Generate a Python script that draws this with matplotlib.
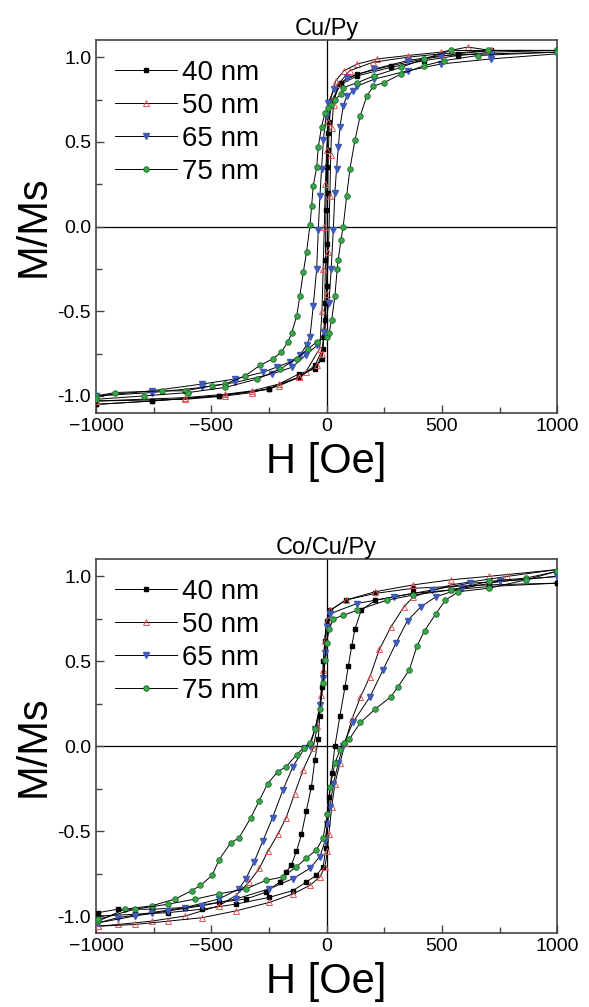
import numpy as np
import matplotlib.pyplot as plt
from matplotlib.ticker import MultipleLocator

plt.rcParams['font.family'] = ['Liberation Sans', 'DejaVu Sans']

labels = ['40 nm', '50 nm', '65 nm', '75 nm']

# ---- Cu/Py (top), values: descending (dn) and ascending (up) branches
cupy_40_dn_h = [1000, 713, 568, 423, 278, 133, 61, 17, 5, 0, -3, -5, -8, -12, -20, -50, -120, -251, -468, -758, -1000]
cupy_40_dn_m = [1.04, 1.04, 1.02, 0.99, 0.95, 0.90, 0.85, 0.71, 0.55, 0.35, 0.10, -0.20, -0.45, -0.65, -0.78, -0.84, -0.87, -0.96, -1.00, -1.03, -1.05]
cupy_40_up_h = [-1000, -758, -468, -251, -120, -50, -17, -5, 0, 3, 5, 8, 12, 20, 61, 133, 278, 423, 568, 713, 1000]
cupy_40_up_m = [-1.05, -1.03, -1.00, -0.96, -0.89, -0.82, -0.72, -0.55, -0.35, -0.10, 0.20, 0.45, 0.62, 0.74, 0.84, 0.89, 0.94, 0.98, 1.01, 1.03, 1.04]

cupy_50_dn_h = [1000, 713, 612, 496, 351, 220, 133, 75, 39, 17, 8, 0, -5, -10, -15, -20, -30, -91, -120, -207, -323, -439, -613, -1000]
cupy_50_dn_m = [1.04, 1.04, 1.06, 1.03, 1.01, 0.99, 0.96, 0.92, 0.86, 0.75, 0.62, 0.45, 0.25, 0.00, -0.25, -0.50, -0.72, -0.86, -0.89, -0.94, -0.98, -1.00, -1.02, -1.03]
cupy_50_up_h = [-1000, -613, -439, -323, -207, -120, -40, -20, -10, 0, 8, 14, 18, 22, 30, 50, 100, 200, 351, 496, 713, 1000]
cupy_50_up_m = [-1.03, -1.01, -0.99, -0.97, -0.93, -0.89, -0.82, -0.75, -0.60, -0.40, -0.15, 0.18, 0.42, 0.58, 0.72, 0.84, 0.92, 0.97, 1.00, 1.02, 1.04, 1.04]

cupy_65_dn_h = [1000, 713, 496, 351, 206, 90, 32, 7, -3, -14, -22, -29, -36, -43, -58, -72, -87, -116, -159, -217, -275, -396, -541, -758, -1000]
cupy_65_dn_m = [1.03, 1.02, 1.01, 0.98, 0.93, 0.88, 0.81, 0.73, 0.65, 0.51, 0.34, 0.18, -0.02, -0.25, -0.47, -0.65, -0.70, -0.76, -0.80, -0.83, -0.86, -0.90, -0.93, -0.97, -1.00]
cupy_65_up_h = [-1000, -758, -541, -396, -236, -149, -91, -40, -10, 10, 20, 29, 36, 43, 51, 58, 72, 87, 116, 133, 206, 351, 496, 713, 1000]
cupy_65_up_m = [-1.00, -0.98, -0.95, -0.92, -0.87, -0.83, -0.76, -0.70, -0.62, -0.45, -0.25, -0.02, 0.20, 0.34, 0.47, 0.59, 0.71, 0.77, 0.80, 0.83, 0.87, 0.92, 0.96, 0.99, 1.02]

cupy_75_dn_h = [1000, 700, 539, 423, 322, 206, 133, 72, 61, 36, 17, 7, -7, -22, -36, -43, -58, -65, -72, -87, -101, -116, -130, -152, -167, -196, -232, -290, -352, -439, -497, -613, -714, -917, -1000]
cupy_75_dn_m = [1.04, 1.04, 1.04, 0.99, 0.94, 0.89, 0.85, 0.82, 0.78, 0.75, 0.72, 0.70, 0.67, 0.59, 0.47, 0.35, 0.24, 0.12, 0.01, -0.15, -0.27, -0.41, -0.53, -0.63, -0.68, -0.74, -0.78, -0.82, -0.88, -0.93, -0.94, -0.97, -0.97, -0.98, -1.00]
cupy_75_up_h = [-1000, -794, -600, -440, -300, -200, -130, -80, -40, 0, 10, 22, 36, 46, 50, 62, 72, 87, 101, 123, 145, 174, 203, 249, 322, 423, 510, 655, 1000]
cupy_75_up_m = [-1.02, -1.00, -0.98, -0.95, -0.90, -0.84, -0.78, -0.72, -0.68, -0.65, -0.63, -0.55, -0.41, -0.25, -0.20, -0.08, 0.00, 0.18, 0.34, 0.51, 0.65, 0.77, 0.83, 0.85, 0.90, 0.95, 0.98, 1.01, 1.03]

# ---- Co/Cu/Py (bottom)
cocu_40_dn_h = [1000, 703, 376, 212, 82, 16, 0, -8, -14, -22, -30, -36, -51, -66, -88, -109, -131, -153, -175, -204, -263, -350, -467, -613, -759, -905, -990]
cocu_40_dn_m = [0.96, 0.95, 0.93, 0.90, 0.86, 0.80, 0.74, 0.62, 0.50, 0.35, 0.18, 0.04, -0.08, -0.24, -0.38, -0.52, -0.62, -0.70, -0.74, -0.80, -0.86, -0.90, -0.92, -0.95, -0.96, -0.96, -0.98]
cocu_40_up_h = [-990, -832, -686, -540, -394, -248, -146, -88, -44, -15, -3, 3, 12, 22, 36, 58, 80, 94, 109, 123, 150, 212, 376, 539, 703, 1000]
cocu_40_up_m = [-1.00, -0.99, -0.98, -0.96, -0.93, -0.89, -0.85, -0.80, -0.76, -0.71, -0.60, -0.46, -0.30, -0.16, 0.00, 0.18, 0.35, 0.47, 0.59, 0.69, 0.80, 0.86, 0.90, 0.92, 0.94, 0.96]

cocu_50_dn_h = [1000, 703, 539, 376, 212, 82, 16, 0, -8, -14, -25, -40, -58, -102, -139, -175, -212, -255, -292, -336, -394, -467, -613, -759, -905, -990]
cocu_50_dn_m = [1.04, 1.00, 0.98, 0.95, 0.91, 0.86, 0.80, 0.74, 0.62, 0.45, 0.30, 0.12, -0.01, -0.14, -0.28, -0.42, -0.52, -0.62, -0.72, -0.80, -0.88, -0.94, -1.00, -1.03, -1.05, -1.06]
cocu_50_up_h = [-990, -832, -686, -540, -394, -248, -146, -73, -29, -7, 3, 10, 22, 36, 58, 80, 110, 147, 188, 229, 278, 335, 376, 539, 784, 1000]
cocu_50_up_m = [-1.06, -1.05, -1.03, -1.01, -0.97, -0.92, -0.87, -0.82, -0.77, -0.71, -0.62, -0.52, -0.36, -0.22, -0.10, 0.02, 0.16, 0.29, 0.41, 0.57, 0.70, 0.82, 0.88, 0.95, 1.00, 1.04]

cocu_65_dn_h = [1000, 752, 621, 458, 294, 131, 16, 0, -7, -14, -29, -50, -72, -95, -146, -190, -234, -277, -314, -350, -380, -467, -613, -759, -905, -990]
cocu_65_dn_m = [1.00, 0.97, 0.96, 0.92, 0.88, 0.84, 0.78, 0.70, 0.55, 0.40, 0.24, 0.10, 0.00, -0.01, -0.12, -0.26, -0.42, -0.56, -0.68, -0.78, -0.84, -0.90, -0.95, -0.98, -1.01, -1.04]
cocu_65_up_h = [-990, -832, -686, -540, -394, -248, -146, -73, -29, -7, 3, 15, 29, 51, 70, 114, 188, 245, 302, 351, 408, 474, 588, 752, 1000]
cocu_65_up_m = [-1.04, -1.00, -0.97, -0.94, -0.90, -0.84, -0.78, -0.72, -0.65, -0.56, -0.46, -0.36, -0.22, -0.10, 0.00, 0.14, 0.29, 0.45, 0.61, 0.74, 0.82, 0.88, 0.93, 0.97, 1.00]

cocu_75_dn_h = [1000, 866, 703, 539, 376, 261, 131, 72, 29, 12, 0, -7, -14, -29, -50, -72, -100, -130, -175, -212, -255, -292, -328, -380, -416, -467, -496, -547, -584, -657, -759, -876, -990]
cocu_75_dn_m = [1.03, 0.99, 0.97, 0.92, 0.89, 0.86, 0.80, 0.77, 0.75, 0.69, 0.61, 0.51, 0.37, 0.22, 0.10, 0.02, -0.01, -0.05, -0.12, -0.15, -0.22, -0.32, -0.42, -0.54, -0.57, -0.67, -0.76, -0.82, -0.85, -0.90, -0.94, -0.96, -1.03]
cocu_75_up_h = [-990, -832, -686, -569, -467, -350, -263, -190, -131, -88, -44, -15, 3, 15, 36, 58, 74, 98, 147, 212, 278, 310, 359, 392, 425, 474, 515, 572, 703, 866, 1000]
cocu_75_up_m = [-1.02, -0.96, -0.93, -0.90, -0.87, -0.84, -0.79, -0.77, -0.71, -0.66, -0.61, -0.54, -0.40, -0.24, -0.10, -0.02, 0.02, 0.04, 0.14, 0.22, 0.29, 0.35, 0.45, 0.59, 0.68, 0.78, 0.86, 0.91, 0.93, 0.98, 1.03]

# marker styles for the four thicknesses
styles = [
    dict(marker='s', ms=3.2, mfc='black', mec='black'),
    dict(marker='^', ms=5, mfc='none', mec='#e05858', mew=0.7),
    dict(marker='v', ms=4.5, mfc='#3f5ab8', mec='#3f5ab8'),
    dict(marker='o', ms=4, mfc='#3aa64a', mec='#1d6e2c', mew=0.6),
]

panels = [
    ('Cu/Py', [
        (cupy_40_dn_h, cupy_40_dn_m, cupy_40_up_h, cupy_40_up_m),
        (cupy_50_dn_h, cupy_50_dn_m, cupy_50_up_h, cupy_50_up_m),
        (cupy_65_dn_h, cupy_65_dn_m, cupy_65_up_h, cupy_65_up_m),
        (cupy_75_dn_h, cupy_75_dn_m, cupy_75_up_h, cupy_75_up_m),
    ]),
    ('Co/Cu/Py', [
        (cocu_40_dn_h, cocu_40_dn_m, cocu_40_up_h, cocu_40_up_m),
        (cocu_50_dn_h, cocu_50_dn_m, cocu_50_up_h, cocu_50_up_m),
        (cocu_65_dn_h, cocu_65_dn_m, cocu_65_up_h, cocu_65_up_m),
        (cocu_75_dn_h, cocu_75_dn_m, cocu_75_up_h, cocu_75_up_m),
    ]),
]

fig = plt.figure(figsize=(5.89, 10.07), dpi=100)
boxes = [[0.163, 0.590, 0.783, 0.370], [0.163, 0.0735, 0.783, 0.371]]

for box, (title, loops) in zip(boxes, panels):
    ax = fig.add_axes(box)
    ax.axhline(0, color='black', lw=0.9, zorder=1)
    ax.axvline(0, color='black', lw=0.9, zorder=1)
    for (dh, dm, uh, um), st, lab in zip(loops, styles, labels):
        ax.plot(dh, dm, color='black', lw=0.7, label=lab, zorder=3, **st)
        ax.plot(uh, um, color='black', lw=0.7, zorder=3, **st)
    ax.set_xlim(-1000, 1000)
    ax.set_ylim(-1.1, 1.1)
    ax.xaxis.set_major_locator(MultipleLocator(500))
    ax.xaxis.set_minor_locator(MultipleLocator(250))
    ax.yaxis.set_major_locator(MultipleLocator(0.5))
    ax.yaxis.set_minor_locator(MultipleLocator(0.25))
    ax.yaxis.set_major_formatter(plt.FormatStrFormatter('%.1f'))
    ax.tick_params(which='both', direction='in', top=False, right=False,
                   labelsize=14, color='#444444', width=1)
    ax.tick_params(which='major', length=6)
    ax.tick_params(which='minor', length=4)
    for sp in ax.spines.values():
        sp.set_color('#444444')
        sp.set_linewidth(1.2)
    ax.set_title(title, fontsize=17, pad=3)
    ax.set_xlabel('H [Oe]', fontsize=30, labelpad=5)
    ax.set_ylabel('M/Ms', fontsize=30, labelpad=3)
    ax.legend(loc='upper left', frameon=False, fontsize=20, numpoints=1,
              handlelength=2.2, handletextpad=0.2, labelspacing=0.25,
              borderaxespad=0.3, markerscale=1.0)

fig.savefig('out.png', dpi=100)
